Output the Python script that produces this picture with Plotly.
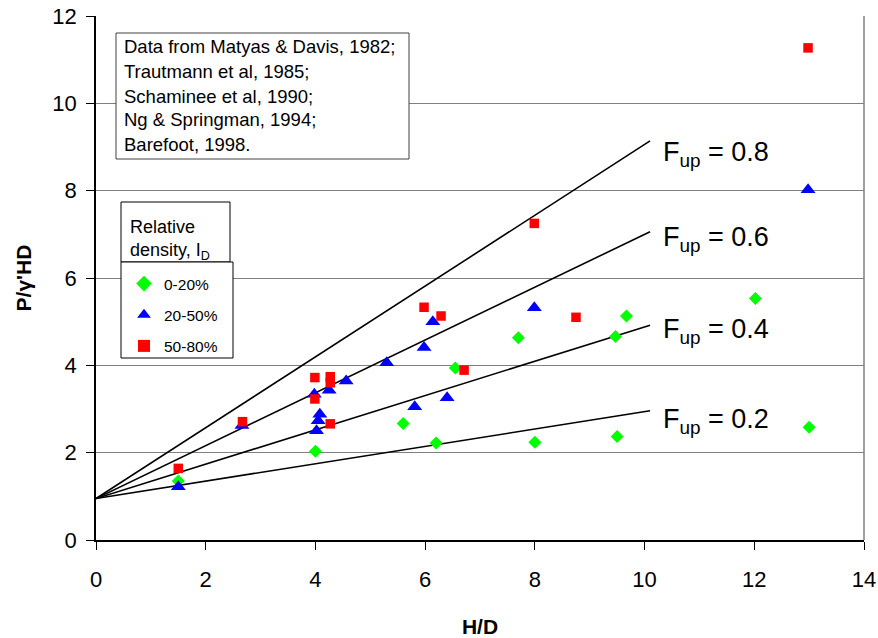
import plotly.graph_objects as go

# ---- data ----
green_x = [1.5, 4.0, 5.6, 6.2, 6.55, 7.7, 8.0, 9.47, 9.67, 9.5, 12.02, 13.0]
green_y = [1.35, 2.03, 2.67, 2.22, 3.94, 4.63, 2.24, 4.66, 5.13, 2.37, 5.53, 2.58]

blue_x = [1.5, 2.66, 3.98, 4.02, 4.05, 4.08, 4.25, 4.56, 5.3, 5.81, 5.98, 6.14, 6.4, 7.99, 12.98]
blue_y = [1.22, 2.62, 3.34, 2.5, 2.73, 2.88, 3.43, 3.64, 4.06, 3.05, 4.41, 5.0, 3.26, 5.32, 8.02]

red_x = [1.5, 2.67, 3.99, 3.99, 4.27, 4.27, 4.27, 5.98, 6.29, 6.71, 7.99, 8.75, 12.98]
red_y = [1.64, 2.71, 3.72, 3.23, 3.74, 3.6, 2.66, 5.33, 5.13, 3.89, 7.25, 5.1, 11.27]

series_names = ["0-20%", "20-50%", "50-80%"]

fup_values = ["0.2", "0.4", "0.6", "0.8"]
line_x = [0, 10.1]
line_y0 = 0.95
line_y1 = [2.96, 4.92, 7.06, 9.14]
label_x = 10.3
label_y = [2.77, 4.83, 6.93, 8.89]

source_lines = [
    "Data from Matyas & Davis, 1982;",
    "Trautmann et al, 1985;",
    "Schaminee et al, 1990;",
    "Ng & Springman, 1994;",
    "Barefoot, 1998.",
]

x_ticks = [0, 2, 4, 6, 8, 10, 12, 14]
y_ticks = [0, 2, 4, 6, 8, 10, 12]

FONT = "Liberation Sans, Arial, sans-serif"

# plot area in pixels
L, R, T, B = 96, 864, 16, 540
def px(xp):
    return (xp - L) / (R - L)
def py(yp):
    return (B - yp) / (B - T)

fig = go.Figure()

# F_up lines
for i, f in enumerate(fup_values):
    fig.add_trace(go.Scatter(
        x=line_x, y=[line_y0, line_y1[i]], mode="lines",
        line=dict(color="black", width=1.6), showlegend=False, hoverinfo="skip"))

fig.add_trace(go.Scatter(
    x=green_x, y=green_y, mode="markers", name=series_names[0], legendgroup="g",
    marker=dict(symbol="diamond", size=10, color="#00FF00", line=dict(width=0))))
fig.add_trace(go.Scatter(
    x=blue_x, y=blue_y, mode="markers", name=series_names[1], legendgroup="b",
    marker=dict(symbol="triangle-up", size=13, color="#0000FF", line=dict(width=0))))
fig.add_trace(go.Scatter(
    x=red_x, y=red_y, mode="markers", name=series_names[2], legendgroup="r",
    marker=dict(symbol="square", size=9.5, color="#FF0000", line=dict(width=0))))

shapes = []
annotations = []

# right border of plot area
shapes.append(dict(type="line", xref="paper", yref="paper", x0=1, x1=1, y0=0, y1=1,
                   line=dict(color="#808080", width=1.5)))

# source text box
shapes.append(dict(type="rect", xref="paper", yref="paper",
                   x0=px(116), x1=px(409), y0=py(159), y1=py(33),
                   fillcolor="white", line=dict(color="#404040", width=1), layer="above"))
line_centers = [46.7, 71.7, 96.0, 119.5, 144.0]
for t, yc in zip(source_lines, line_centers):
    annotations.append(dict(text=t, xref="paper", yref="paper", x=px(122), y=py(yc),
                            xanchor="left", yanchor="middle", showarrow=False,
                            font=dict(family=FONT, size=18.5, color="black")))

# legend title box
shapes.append(dict(type="rect", xref="paper", yref="paper",
                   x0=px(121), x1=px(230), y0=py(262), y1=py(202),
                   fillcolor="white", line=dict(color="black", width=1), layer="above"))
annotations.append(dict(text="Relative", xref="paper", yref="paper", x=px(128), y=py(227),
                        xanchor="left", yanchor="middle", showarrow=False,
                        font=dict(family=FONT, size=18, color="black")))
annotations.append(dict(text="density, I<sub>D</sub>", xref="paper", yref="paper", x=px(128), y=py(251),
                        xanchor="left", yanchor="middle", showarrow=False,
                        font=dict(family=FONT, size=18, color="black")))
# legend box
shapes.append(dict(type="rect", xref="paper", yref="paper",
                   x0=px(121), x1=px(233), y0=py(358), y1=py(262),
                   fillcolor="white", line=dict(color="black", width=1), layer="above"))

# F_up labels
for f, yv in zip(fup_values, label_y):
    annotations.append(dict(text="F<sub>up</sub> = " + f, x=label_x, y=yv, xref="x", yref="y",
                            xanchor="left", yanchor="middle", showarrow=False, yshift=-2,
                            font=dict(family=FONT, size=27, color="black")))

fig.update_layout(
    width=878, height=638,
    margin=dict(l=L, r=878 - R, t=T, b=638 - B),
    paper_bgcolor="white", plot_bgcolor="white",
    font=dict(family=FONT, color="black"),
    shapes=shapes, annotations=annotations,
    showlegend=True,
    legend=dict(x=px(124), y=py(267), xanchor="left", yanchor="top",
                bgcolor="rgba(0,0,0,0)", borderwidth=0,
                font=dict(family=FONT, size=15.5, color="black"),
                tracegroupgap=8, itemsizing="constant"),
)

fig.update_xaxes(
    range=[0, 14], tickvals=x_ticks, ticktext=[str(v) for v in x_ticks],
    showgrid=False, zeroline=False, automargin=False,
    showline=True, linecolor="black", linewidth=1.5,
    ticks="outside", ticklen=8, tickcolor="black", tickwidth=1,
    ticklabelstandoff=11,
    tickfont=dict(family=FONT, size=22, color="black"),
    title=dict(text="<b>H/D</b>", font=dict(family=FONT, size=21, color="black"), standoff=28),
)
fig.update_yaxes(
    range=[0, 12], tickvals=y_ticks, ticktext=[str(v) for v in y_ticks],
    showgrid=True, gridcolor="#808080", gridwidth=1.3, zeroline=False, automargin=False,
    showline=True, linecolor="black", linewidth=1.5,
    ticks="outside", ticklen=8, tickcolor="black", tickwidth=1,
    ticklabelstandoff=5,
    tickfont=dict(family=FONT, size=22, color="black"),
    title=dict(text="<b>P/γ'HD</b>", font=dict(family=FONT, size=21, color="black"), standoff=15),
)

fig.write_html("out.html")
